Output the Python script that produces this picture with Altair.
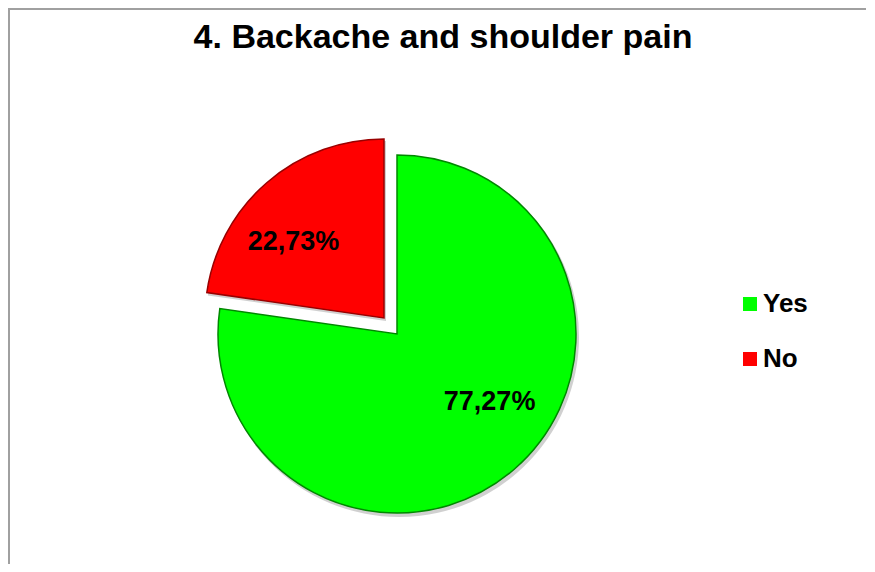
import altair as alt
import pandas as pd

# ---- data ----
categories = ["Yes", "No"]
values = [77.27, 22.73]
labels = ["77,27%", "22,73%"]
order = [0, 1]
colors = ["#00FF00", "#FF0000"]
edge_colors = ["#008800", "#990000"]

title_text = "4. Backache and shoulder pain"

df = pd.DataFrame({"answer": categories, "value": values, "label": labels, "order": order})
df_title = pd.DataFrame({"t": [title_text]})

W, H = 858, 556
CX, CY = 389, 326          # pie centre (layout, view coords)
R = 179                    # pie radius
EXPLODE = (-13, -16)       # offset of the pulled-out slice
FONT = "Liberation Sans"
BORDER = "#A0A0A0"

color_scale = alt.Scale(domain=categories, range=colors)
theta_scale = alt.Scale(domain=[0, 100], range=[0, 6.283185307179586])

base = (
    alt.Chart(df)
    .transform_stack(stack="value", groupby=[], as_=["start", "end"],
                     sort=[alt.SortField("order", order="ascending")])
    .transform_calculate(mid="(datum.start + datum.end) / 2")
)

def shadow_layer(cat, dx=0, dy=0):
    return base.transform_filter(alt.datum.answer == cat).mark_arc(
        radius=R + 1, x=CX, y=CY, xOffset=dx + 2, yOffset=dy + 3,
        color="#777777", opacity=0.35,
    ).encode(
        theta=alt.Theta("start:Q", scale=theta_scale, stack=False),
        theta2="end:Q",
    )

def arc_layer(cat, edge, dx=0, dy=0):
    return base.transform_filter(alt.datum.answer == cat).mark_arc(
        radius=R, x=CX, y=CY, xOffset=dx, yOffset=dy,
        stroke=edge, strokeWidth=1.5,
    ).encode(
        theta=alt.Theta("start:Q", scale=theta_scale, stack=False),
        theta2="end:Q",
        color=alt.Color(
            "answer:N", scale=color_scale,
            legend=alt.Legend(
                title=None, orient="none", legendX=729, legendY=283,
                symbolType="square", symbolSize=196, symbolStrokeWidth=0,
                labelFont=FONT, labelFontSize=26, labelFontWeight="bold",
                labelColor="black", labelOffset=0, rowPadding=29, padding=0,
            ),
        ),
    )

def label_layer(cat, dx=0, dy=0):
    return base.transform_filter(alt.datum.answer == cat).mark_text(
        radius=120, x=CX, y=CY, dx=dx, dy=dy,
        font=FONT, fontSize=27, fontWeight="bold", color="black",
        align="center", baseline="middle",
    ).encode(
        theta=alt.Theta("mid:Q", scale=theta_scale, stack=False),
        text="label:N",
    )

frame = alt.Chart(df_title)
top_border = frame.mark_rule(color=BORDER, strokeWidth=2).encode(
    x=alt.value(0), x2=alt.value(W), y=alt.value(1))
left_border = frame.mark_rule(color=BORDER, strokeWidth=2).encode(
    x=alt.value(1), y=alt.value(0), y2=alt.value(H))
title = frame.mark_text(
    font=FONT, fontSize=34, fontWeight="bold", color="black",
    align="center", baseline="alphabetic",
).encode(text="t:N", x=alt.value(435), y=alt.value(40))

layers = [
    top_border, left_border, title,
    shadow_layer("Yes"),
    shadow_layer("No", EXPLODE[0], EXPLODE[1]),
    arc_layer("Yes", edge_colors[0]),
    arc_layer("No", edge_colors[1], EXPLODE[0], EXPLODE[1]),
    label_layer("Yes", 14, -23),
    label_layer("No", -25, -1),
]

chart = (
    alt.layer(*layers)
    .properties(
        width=W, height=H,
        autosize=alt.AutoSizeParams(type="none"),
        padding=0,
    )
    .configure_view(stroke=None)
    .configure(background="white")
)

chart.save("out.html", embed_options={"renderer": "svg", "actions": False})
